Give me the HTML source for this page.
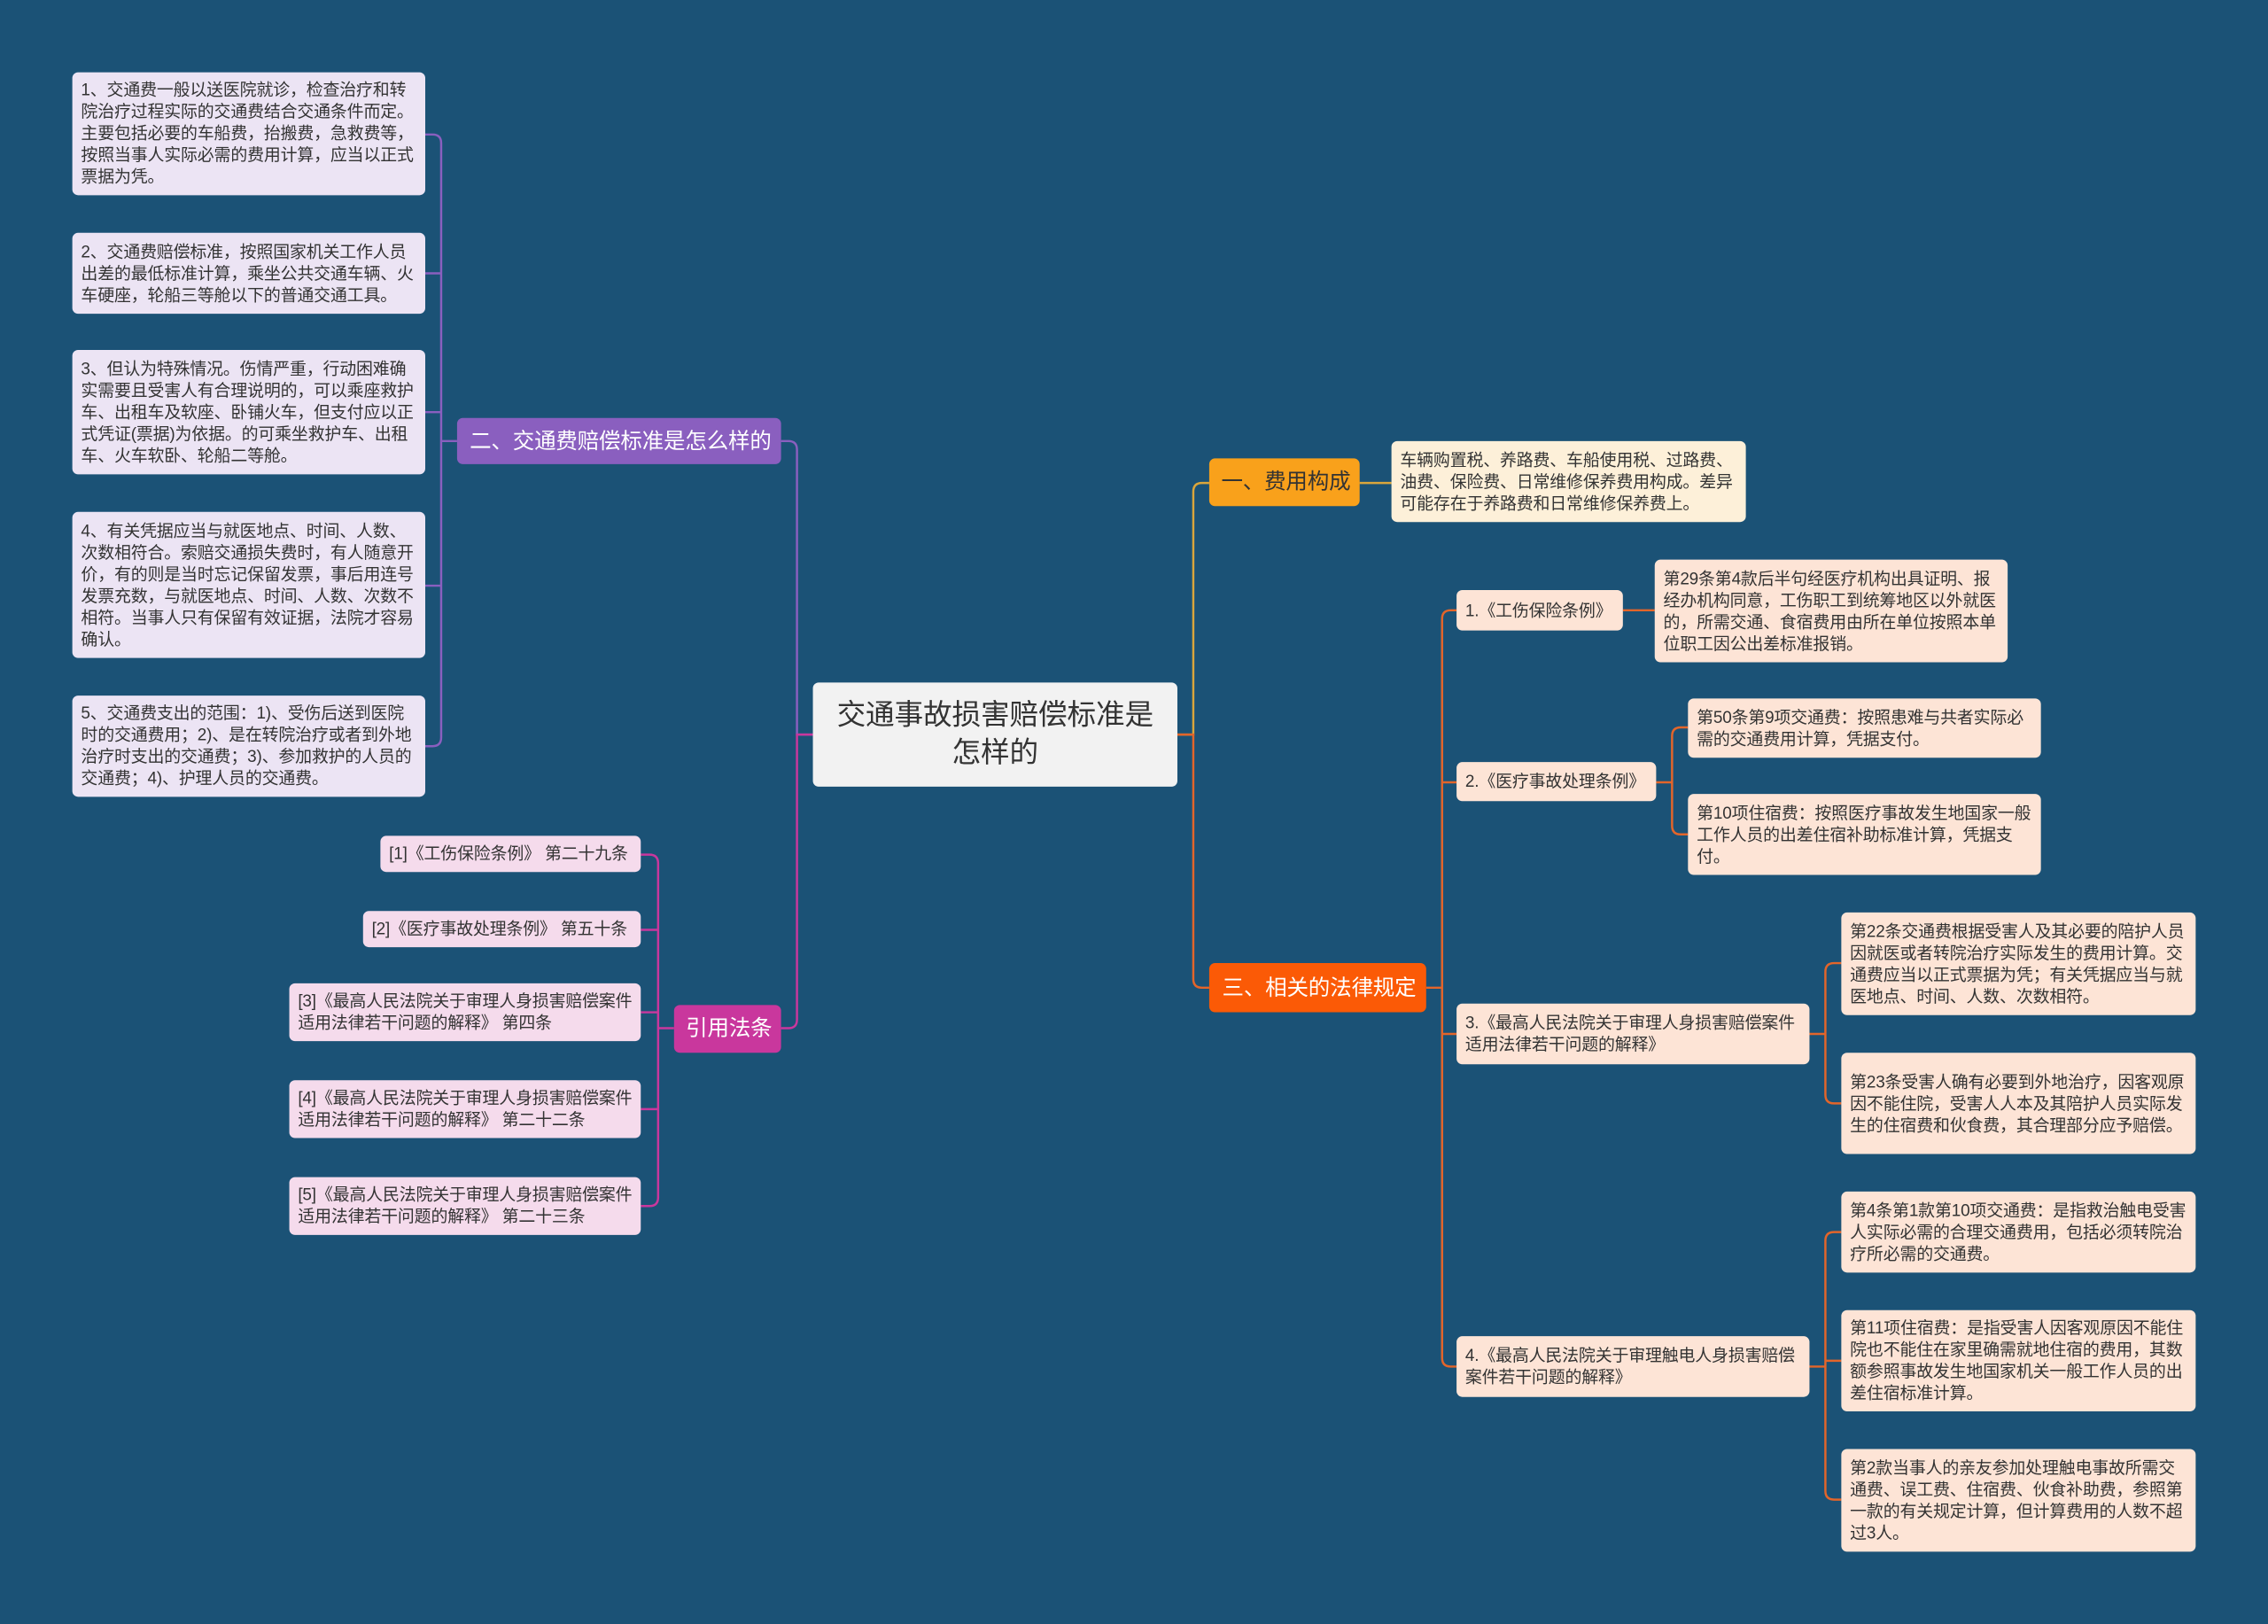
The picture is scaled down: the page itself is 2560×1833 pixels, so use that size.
<!DOCTYPE html>
<html><head><meta charset="utf-8"><style>
html,body{margin:0;padding:0;}
body{width:2560px;height:1833px;overflow:hidden;background:#1b5276;}
#c{position:absolute;left:0;top:0;width:1568px;height:1123px;transform:scale(1.63265,1.6322);transform-origin:0 0;font-family:"Liberation Sans","Noto Sans CJK SC",sans-serif;}
.n{position:absolute;box-sizing:border-box;border-radius:4px;color:#333;font-size:11.6px;line-height:15px;padding:0 4px 0 6px;display:flex;align-items:center;letter-spacing:-0.1px;}
.s{white-space:nowrap;}
.p{background:#ece4f4;}
.m{background:#f5dbec;}
.y{background:#fdf0d9;}
.o{background:#fde4d6;}
.t{font-size:15px;color:#fff;justify-content:center;}
svg{position:absolute;left:0;top:0;}
</style></head><body><div id="c">
<svg width="1568" height="1123" fill="none" stroke-width="1.5">
<g stroke="#d9a63c"><path d="M814 508 H825 V340 Q825 334 831 334 H836"/><path d="M940 334 H962"/></g>
<g stroke="#e3652a"><path d="M814 508 H825 V677 Q825 683 831 683 H836"/>
<path d="M986 683 H997"/><path d="M1007 422 H1003 Q997 422 997 428 V939 Q997 945 1003 945 H1007"/>
<path d="M997 541 H1007 M997 715 H1007"/>
<path d="M1122 422 H1144"/>
<path d="M1145 541 H1156 M1167 503 H1162 Q1156 503 1156 509 V571 Q1156 577 1162 577 H1167"/>
<path d="M1251 715 H1262 M1273 666 H1268 Q1262 666 1262 672 V757 Q1262 763 1268 763 H1273"/>
<path d="M1251 945 H1262 M1273 852 H1268 Q1262 852 1262 858 V1031 Q1262 1037 1268 1037 H1273 M1262 941 H1273"/></g>
<g stroke="#8a5fbf"><path d="M562 508 H551 V311 Q551 305 545 305 H540"/>
<path d="M316 305 H305 M294 93 H299 Q305 93 305 99 V510 Q305 516 299 516 H294 M294 189 H305 M294 285 H305 M294 405 H305"/></g>
<g stroke="#c9379d"><path d="M562 508 H551 V705 Q551 711 545 711 H540"/>
<path d="M466 711 H455 M443 591 H449 Q455 591 455 597 V828 Q455 834 449 834 H443 M443 643 H455 M443 700 H455 M443 767 H455"/></g>
</svg>
<div class="n" style="left:562px;top:472px;width:252px;height:72px;background:#f2f2f2;font-size:20px;line-height:26px;justify-content:center;text-align:center;padding:0 12px">交通事故损害赔偿标准是怎样的</div>
<div class="n s" style="left:836px;top:317px;width:104px;height:33px;background:#f9a11b;font-size:15px;justify-content:center">一、费用构成</div>
<div class="n y" style="left:962px;top:305px;width:245px;height:56px">车辆购置税、养路费、车船使用税、过路费、油费、保险费、日常维修保养费用构成。差异可能存在于养路费和日常维修保养费上。</div>
<div class="n t s" style="left:836px;top:666px;width:150px;height:34px;background:#fb5a06">三、相关的法律规定</div>
<div class="n o s" style="left:1007px;top:408px;width:115px;height:28px">1.《工伤保险条例》</div>
<div class="n o" style="left:1144px;top:387px;width:244px;height:71px">第29条第4款后半句经医疗机构出具证明、报经办机构同意，工伤职工到统筹地区以外就医的，所需交通、食宿费用由所在单位按照本单位职工因公出差标准报销。</div>
<div class="n o s" style="left:1007px;top:527px;width:138px;height:27px">2.《医疗事故处理条例》</div>
<div class="n o" style="left:1167px;top:483px;width:244px;height:41px">第50条第9项交通费：按照患难与共者实际必需的交通费用计算，凭据支付。</div>
<div class="n o" style="left:1167px;top:549px;width:244px;height:56px">第10项住宿费：按照医疗事故发生地国家一般工作人员的出差住宿补助标准计算，凭据支付。</div>
<div class="n o" style="left:1007px;top:694px;width:244px;height:42px">3.《最高人民法院关于审理人身损害赔偿案件适用法律若干问题的解释》</div>
<div class="n o" style="left:1273px;top:631px;width:245px;height:71px">第22条交通费根据受害人及其必要的陪护人员因就医或者转院治疗实际发生的费用计算。交通费应当以正式票据为凭；有关凭据应当与就医地点、时间、人数、次数相符。</div>
<div class="n o" style="left:1273px;top:728px;width:245px;height:70px">第23条受害人确有必要到外地治疗，因客观原因不能住院，受害人人本及其陪护人员实际发生的住宿费和伙食费，其合理部分应予赔偿。</div>
<div class="n o" style="left:1007px;top:924px;width:244px;height:42px">4.《最高人民法院关于审理触电人身损害赔偿案件若干问题的解释》</div>
<div class="n o" style="left:1273px;top:824px;width:245px;height:56px">第4条第1款第10项交通费：是指救治触电受害人实际必需的合理交通费用，包括必须转院治疗所必需的交通费。</div>
<div class="n o" style="left:1273px;top:906px;width:245px;height:70px">第11项住宿费：是指受害人因客观原因不能住院也不能住在家里确需就地住宿的费用，其数额参照事故发生地国家机关一般工作人员的出差住宿标准计算。</div>
<div class="n o" style="left:1273px;top:1002px;width:245px;height:71px">第2款当事人的亲友参加处理触电事故所需交通费、误工费、住宿费、伙食补助费，参照第一款的有关规定计算，但计算费用的人数不超过3人。</div>
<div class="n t s" style="left:316px;top:289px;width:224px;height:32px;background:#8a5fbf">二、交通费赔偿标准是怎么样的</div>
<div class="n p" style="left:50px;top:50px;width:244px;height:85px">1、交通费一般以送医院就诊，检查治疗和转院治疗过程实际的交通费结合交通条件而定。主要包括必要的车船费，抬搬费，急救费等，按照当事人实际必需的费用计算，应当以正式票据为凭。</div>
<div class="n p" style="left:50px;top:161px;width:244px;height:56px">2、交通费赔偿标准，按照国家机关工作人员出差的最低标准计算，乘坐公共交通车辆、火车硬座，轮船三等舱以下的普通交通工具。</div>
<div class="n p" style="left:50px;top:242px;width:244px;height:86px">3、但认为特殊情况。伤情严重，行动困难确实需要且受害人有合理说明的，可以乘座救护车、出租车及软座、卧铺火车，但支付应以正式凭证(票据)为依据。的可乘坐救护车、出租车、火车软卧、轮船二等舱。</div>
<div class="n p" style="left:50px;top:354px;width:244px;height:101px">4、有关凭据应当与就医地点、时间、人数、次数相符合。索赔交通损失费时，有人随意开价，有的则是当时忘记保留发票，事后用连号发票充数，与就医地点、时间、人数、次数不相符。当事人只有保留有效证据，法院才容易确认。</div>
<div class="n p" style="left:50px;top:481px;width:244px;height:70px">5、交通费支出的范围：1)、受伤后送到医院时的交通费用；2)、是在转院治疗或者到外地治疗时支出的交通费；3)、参加救护的人员的交通费；4)、护理人员的交通费。</div>
<div class="n t s" style="left:466px;top:695px;width:74px;height:33px;background:#c9379d">引用法条</div>
<div class="n m s" style="left:263px;top:578px;width:180px;height:25px">[1]《工伤保险条例》 第二十九条</div>
<div class="n m s" style="left:251px;top:630px;width:192px;height:25px">[2]《医疗事故处理条例》 第五十条</div>
<div class="n m" style="left:200px;top:680px;width:243px;height:40px">[3]《最高人民法院关于审理人身损害赔偿案件适用法律若干问题的解释》 第四条</div>
<div class="n m" style="left:200px;top:747px;width:243px;height:40px">[4]《最高人民法院关于审理人身损害赔偿案件适用法律若干问题的解释》 第二十二条</div>
<div class="n m" style="left:200px;top:814px;width:243px;height:40px">[5]《最高人民法院关于审理人身损害赔偿案件适用法律若干问题的解释》 第二十三条</div>
</div></body></html>
